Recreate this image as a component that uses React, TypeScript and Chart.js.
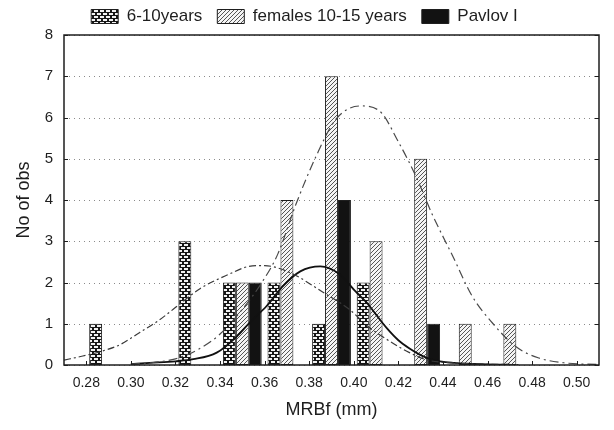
import React, { useEffect, useRef } from 'react';
import { Chart, registerables } from 'chart.js';

Chart.register(...registerables);

// ---- data ----
const binCenters = [0.29, 0.31, 0.33, 0.35, 0.37, 0.39, 0.41, 0.43, 0.45, 0.47, 0.49];
const kids610 = [1, 0, 3, 2, 2, 1, 2, 0, 0, 0, 0];
const females1015 = [0, 0, 0, 2, 4, 7, 3, 5, 1, 1, 0];
const pavlovI = [0, 0, 0, 2, 0, 4, 0, 1, 0, 0, 0];

const xTicks = [0.28, 0.3, 0.32, 0.34, 0.36, 0.38, 0.4, 0.42, 0.44, 0.46, 0.48, 0.5];
const yTicks = [0, 1, 2, 3, 4, 5, 6, 7, 8];

// fitted normal curves
const fit610X = [0.27, 0.277, 0.286, 0.295, 0.304, 0.312, 0.319, 0.331, 0.344, 0.353, 0.36, 0.366, 0.374, 0.386, 0.398, 0.406, 0.416, 0.425, 0.433, 0.445, 0.46, 0.475];
const fit610Y = [0.12, 0.2, 0.32, 0.49, 0.79, 1.06, 1.35, 1.85, 2.2, 2.39, 2.41, 2.35, 2.17, 1.77, 1.35, 0.95, 0.58, 0.3, 0.12, 0.05, 0.02, 0.01];

const fitFemX = [0.3, 0.31, 0.32, 0.33, 0.34, 0.35, 0.359, 0.366, 0.374, 0.383, 0.392, 0.403, 0.4115, 0.4204, 0.428, 0.4352, 0.4442, 0.4531, 0.462, 0.4728, 0.483, 0.495, 0.51];
const fitFemY = [0.02, 0.06, 0.15, 0.37, 0.75, 1.35, 2.02, 2.7, 3.89, 5.05, 5.96, 6.28, 6.16, 5.37, 4.56, 3.65, 2.66, 1.67, 1.03, 0.44, 0.17, 0.05, 0.01];

const fitPavX = [0.3, 0.3085, 0.32, 0.328, 0.3385, 0.3475, 0.3533, 0.3609, 0.368, 0.376, 0.385, 0.3936, 0.401, 0.406, 0.41, 0.415, 0.42, 0.425, 0.43, 0.435, 0.445, 0.46, 0.47];
const fitPavY = [0.02, 0.05, 0.09, 0.14, 0.3, 0.69, 1.03, 1.43, 1.9, 2.27, 2.39, 2.2, 1.77, 1.5, 1.22, 0.88, 0.6, 0.4, 0.24, 0.13, 0.05, 0.015, 0.01];

const seriesNames = ['6-10years', 'females 10-15 years', 'Pavlov I'];

const FONT = "Arial, 'Liberation Sans', sans-serif";
const INK = '#1e1e1e';

function brickPattern(): CanvasPattern | string {
  const c = document.createElement('canvas');
  c.width = 6;
  c.height = 6;
  const g = c.getContext('2d');
  if (!g) return '#333';
  g.fillStyle = '#161616';
  g.fillRect(0, 0, 6, 6);
  g.fillStyle = '#f2f2f2';
  g.fillRect(1, 1, 4, 2);
  g.fillRect(4, 4, 2, 2);
  g.fillRect(0, 4, 2, 2);
  return g.createPattern(c, 'repeat') || '#333';
}

function hatchPattern(): CanvasPattern | string {
  const c = document.createElement('canvas');
  c.width = 4;
  c.height = 4;
  const g = c.getContext('2d');
  if (!g) return '#bbb';
  g.fillStyle = '#f4f4f4';
  g.fillRect(0, 0, 4, 4);
  g.fillStyle = '#555';
  g.fillRect(3, 0, 1, 1);
  g.fillRect(2, 1, 1, 1);
  g.fillRect(1, 2, 1, 1);
  g.fillRect(0, 3, 1, 1);
  return g.createPattern(c, 'repeat') || '#bbb';
}

const toPoints = (xs: number[], ys: number[]) => xs.map((x, i) => ({ x, y: ys[i] }));
const toBars = (ys: number[]) => binCenters.map((x, i) => ({ x, y: ys[i] === 0 ? null : ys[i] }));

const gridPlugin = {
  id: 'dottedGrid',
  beforeDatasetsDraw(chart: any) {
    const { ctx, chartArea: a, scales } = chart;
    ctx.save();
    ctx.strokeStyle = '#8a8a8a';
    ctx.lineWidth = 1;
    ctx.setLineDash([1, 4]);
    ctx.beginPath();
    for (const v of yTicks) {
      const y = Math.round(scales.y.getPixelForValue(v)) + 0.5;
      ctx.moveTo(a.left, y);
      ctx.lineTo(a.right, y);
    }
    ctx.stroke();
    ctx.restore();
  },
};

const framePlugin = {
  id: 'frameTicks',
  afterDatasetsDraw(chart: any) {
    const { ctx, chartArea: a, scales } = chart;
    ctx.save();
    ctx.strokeStyle = INK;
    ctx.lineWidth = 1.5;
    ctx.strokeRect(a.left, a.top, a.right - a.left, a.bottom - a.top);
    ctx.lineWidth = 1;
    ctx.beginPath();
    for (const v of yTicks) {
      const y = Math.round(scales.y.getPixelForValue(v)) + 0.5;
      ctx.moveTo(a.left, y);
      ctx.lineTo(a.left + 4, y);
      ctx.moveTo(a.right, y);
      ctx.lineTo(a.right - 4, y);
    }
    for (const v of xTicks) {
      const x = Math.round(scales.x.getPixelForValue(v)) + 0.5;
      ctx.moveTo(x, a.bottom);
      ctx.lineTo(x, a.bottom - 4);
    }
    ctx.stroke();
    ctx.restore();
  },
};

export default function App() {
  const ref = useRef<HTMLCanvasElement | null>(null);

  useEffect(() => {
    if (!ref.current) return;
    const brick = brickPattern();
    const hatch = hatchPattern();
    const barCommon = {
      type: 'bar' as const,
      borderColor: INK,
      borderWidth: 1,
      borderSkipped: false,
      categoryPercentage: 0.87,
      barPercentage: 1.0,
      order: 2,
    };
    const lineCommon = {
      type: 'line' as const,
      pointRadius: 0,
      fill: false,
      cubicInterpolationMode: 'monotone' as const,
      order: 1,
    };
    const chart = new Chart(ref.current, {
      type: 'bar',
      data: {
        datasets: [
          { ...barCommon, label: seriesNames[0], data: toBars(kids610), backgroundColor: brick },
          { ...barCommon, label: seriesNames[1], data: toBars(females1015), backgroundColor: hatch },
          { ...barCommon, label: seriesNames[2], data: toBars(pavlovI), backgroundColor: '#121212' },
          { ...lineCommon, label: 'fit 6-10', data: toPoints(fit610X, fit610Y), borderColor: '#3a3a3a', borderWidth: 1.2, borderDash: [7, 3, 2, 3] },
          { ...lineCommon, label: 'fit females', data: toPoints(fitFemX, fitFemY), borderColor: '#4a4a4a', borderWidth: 1.2, borderDash: [9, 4, 2, 4] },
          { ...lineCommon, label: 'fit Pavlov', data: toPoints(fitPavX, fitPavY), borderColor: '#111', borderWidth: 1.8 },
        ] as any,
      },
      options: {
        animation: false,
        responsive: true,
        maintainAspectRatio: false,
        layout: { padding: { top: -7, right: 15, bottom: 0, left: 10 } },
        plugins: {
          tooltip: { enabled: false },
          legend: {
            display: true,
            position: 'top',
            labels: {
              filter: (item: any) => item.datasetIndex < 3,
              boxWidth: 27,
              boxHeight: 14,
              padding: 15,
              color: INK,
              font: { family: FONT, size: 17 },
            },
          },
        },
        scales: {
          x: {
            type: 'linear',
            min: 0.27,
            max: 0.51,
            offset: false,
            afterBuildTicks: (s: any) => {
              s.ticks = xTicks.map((v) => ({ value: v }));
            },
            afterFit: (s: any) => {
              s.height = 65;
            },
            grid: { display: false, drawTicks: false },
            border: { display: false },
            ticks: {
              padding: 10,
              color: INK,
              font: { family: FONT, size: 14 },
              maxRotation: 0,
              autoSkip: false,
              callback: (v: any) => Number(v).toFixed(2),
            },
            title: {
              display: true,
              text: 'MRBf (mm)',
              color: INK,
              font: { family: FONT, size: 18 },
              padding: { top: 0, bottom: 9 },
            },
          },
          y: {
            type: 'linear',
            min: 0,
            max: 8,
            afterBuildTicks: (s: any) => {
              s.ticks = yTicks.map((v) => ({ value: v }));
            },
            afterFit: (s: any) => {
              s.width = 54;
            },
            grid: { display: false, drawTicks: false },
            border: { display: false },
            ticks: {
              padding: 11,
              color: INK,
              font: { family: FONT, size: 15 },
            },
            title: {
              display: true,
              text: 'No of obs',
              color: INK,
              font: { family: FONT, size: 18 },
              padding: { top: 3, bottom: 0 },
            },
          },
        },
      },
      plugins: [gridPlugin, framePlugin],
    });
    return () => chart.destroy();
  }, []);

  return (
    <div style={{ position: 'fixed', left: 0, top: 0, width: 614, height: 430, background: '#fff' }}>
      <canvas ref={ref} />
    </div>
  );
}
